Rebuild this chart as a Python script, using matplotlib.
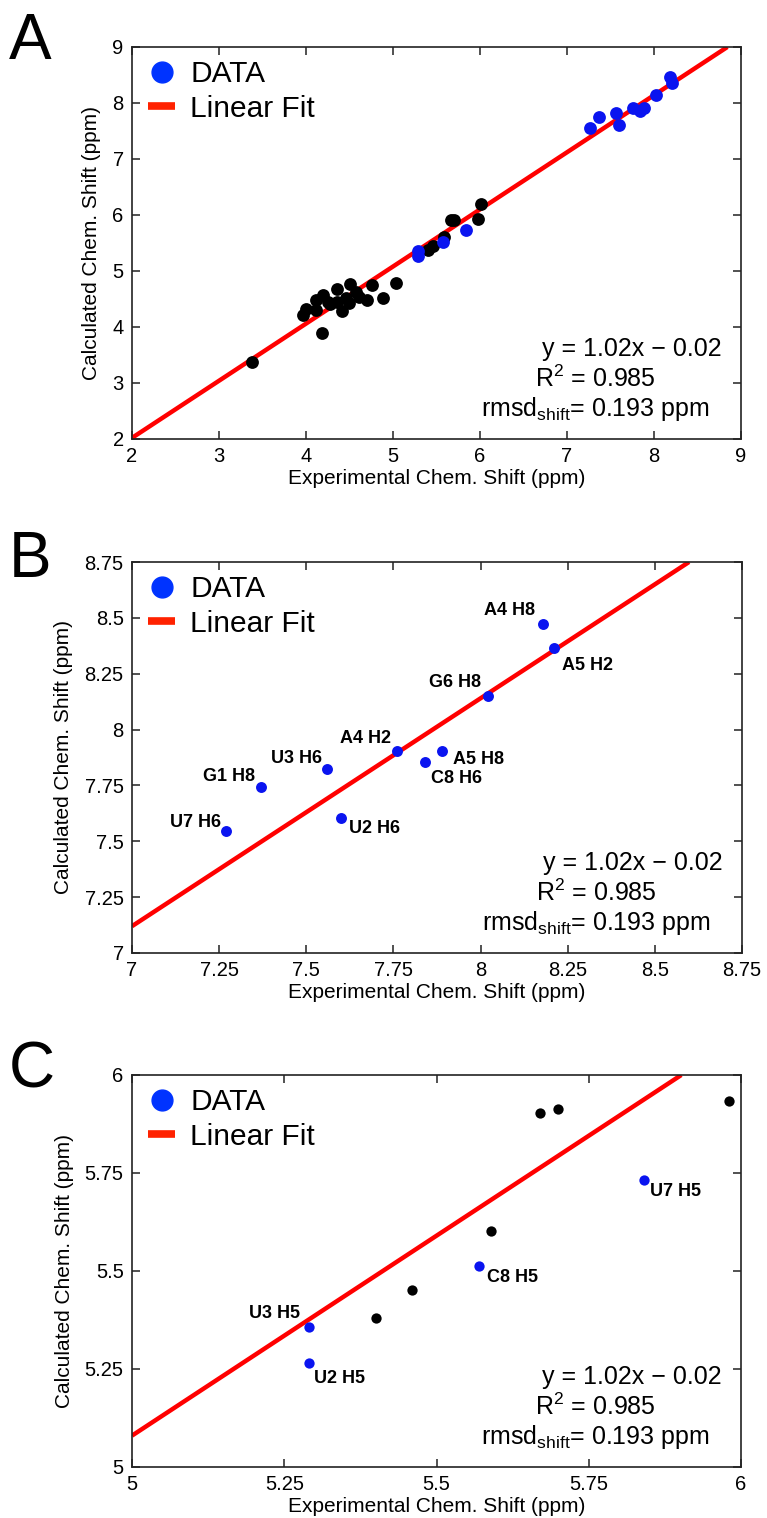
import numpy as np
import matplotlib
matplotlib.use("Agg")
import matplotlib.pyplot as plt
from matplotlib.lines import Line2D
from matplotlib.ticker import FuncFormatter

plt.rcParams['font.family'] = ['Liberation Sans', 'DejaVu Sans']
plt.rcParams['mathtext.fontset'] = 'custom'
plt.rcParams['mathtext.rm'] = 'Liberation Sans'
plt.rcParams['mathtext.it'] = 'Liberation Sans:italic'
plt.rcParams['mathtext.bf'] = 'Liberation Sans:bold'

# ---------------- data ----------------
# aromatic protons (blue, panel B)
aro_labels = ['U7 H6', 'G1 H8', 'U3 H6', 'U2 H6', 'A4 H2', 'C8 H6', 'A5 H8', 'G6 H8', 'A4 H8', 'A5 H2']
aro_exp = [7.27, 7.37, 7.56, 7.60, 7.76, 7.84, 7.89, 8.02, 8.18, 8.21]
aro_calc = [7.545, 7.745, 7.822, 7.602, 7.903, 7.856, 7.903, 8.151, 8.472, 8.365]

# pyrimidine H5 protons (blue, panel C)
h5_labels = ['U3 H5', 'U2 H5', 'C8 H5', 'U7 H5']
h5_exp = [5.29, 5.29, 5.57, 5.84]
h5_calc = [5.358, 5.265, 5.512, 5.732]

# other protons in 5-6 ppm window (black, panel C)
mid_exp = [5.40, 5.46, 5.59, 5.67, 5.70, 5.98]
mid_calc = [5.381, 5.452, 5.602, 5.904, 5.912, 5.933]

# remaining (sugar) protons (black, panel A only)
sug_exp = [3.38, 4.18, 3.97, 4.00, 4.11, 4.12, 4.19, 4.25, 4.28, 4.36, 4.36, 4.41,
           4.46, 4.49, 4.50, 4.57, 4.61, 4.70, 4.76, 4.88, 5.03, 6.01]
sug_calc = [3.37, 3.89, 4.21, 4.32, 4.30, 4.49, 4.57, 4.44, 4.41, 4.44, 4.68, 4.28,
            4.52, 4.43, 4.77, 4.62, 4.53, 4.48, 4.75, 4.51, 4.78, 6.19]

fit_slope = 1.02
fit_intercept = -0.02
eq_lines = ['y = 1.02x − 0.02', 'R$^2$ = 0.985', r'rmsd$_{\mathrm{shift}}$= 0.193 ppm']

xlabel = 'Experimental Chem. Shift (ppm)'
ylabel = 'Calculated Chem. Shift (ppm)'
panel_letters = ['A', 'B', 'C']
ticksA = [2, 3, 4, 5, 6, 7, 8, 9]
ticksB = [7, 7.25, 7.5, 7.75, 8, 8.25, 8.5, 8.75]
ticksC = [5, 5.25, 5.5, 5.75, 6]

# label offsets in pixels (dx, dy) -- style
aro_off = {'U7 H6': (-31, 9), 'G1 H8': (-32, 10), 'U3 H6': (-31, 11), 'U2 H6': (33, -10),
           'A4 H2': (-31, 13), 'C8 H6': (32, -17), 'A5 H8': (36, -8), 'G6 H8': (-33, 13),
           'A4 H8': (-34, 14), 'A5 H2': (34, -17)}
h5_off = {'U3 H5': (-34, 13), 'U2 H5': (31, -15), 'C8 H5': (33, -11), 'U7 H5': (32, -11)}

BLUE = '#0a14f0'
LEG_BLUE = '#0033ff'
RED = '#ff0000'
LEG_RED = '#ff2200'

W, H = 767, 1518
fig = plt.figure(figsize=(W / 100, H / 100), dpi=100)


def rect(l, t, r, b):
    return [l / W, 1 - b / H, (r - l) / W, (b - t) / H]


axA = fig.add_axes(rect(132, 47, 741, 439))
axB = fig.add_axes(rect(132, 562, 742, 953))
axC = fig.add_axes(rect(132, 1075, 741, 1467))

fmt = FuncFormatter(lambda v, p: f'{v:g}')


def style(ax, ticks):
    ax.set_xlim(ticks[0], ticks[-1])
    ax.set_ylim(ticks[0], ticks[-1])
    ax.set_xticks(ticks)
    ax.set_yticks(ticks)
    ax.xaxis.set_major_formatter(fmt)
    ax.yaxis.set_major_formatter(fmt)
    ax.tick_params(direction='in', length=6, width=1.1, top=True, right=True,
                   labelsize=14.5, pad=6, colors='#222222', labelcolor='black')
    for s in ax.spines.values():
        s.set_linewidth(1.2)
        s.set_color('#222222')
    ax.set_xlabel(xlabel, fontsize=15, labelpad=2)
    ax.set_ylabel(ylabel, fontsize=15, labelpad=8)
    ax.axline((0, fit_intercept), slope=fit_slope, color=RED, lw=3.2, zorder=2,
              solid_capstyle='butt')
    handles = [Line2D([], [], marker='o', ls='none', color=LEG_BLUE, ms=15),
               Line2D([], [], color=LEG_RED, lw=5.5, solid_capstyle='butt')]
    ax.legend(handles, ['DATA', 'Linear Fit'], loc='upper left',
              bbox_to_anchor=(0.027, 0.966), frameon=False, fontsize=21.5,
              handlelength=0.9, handletextpad=0.5, labelspacing=0.22,
              borderpad=0, borderaxespad=0)
    ax.text(1 - 19 / 609, 90 / 392, eq_lines[0], transform=ax.transAxes,
            ha='right', va='center', fontsize=18)
    ax.text(1 - 85 / 609, 60 / 392, eq_lines[1], transform=ax.transAxes,
            ha='right', va='center', fontsize=18)
    ax.text(1 - 31 / 609, 30 / 392, eq_lines[2], transform=ax.transAxes,
            ha='right', va='center', fontsize=18)


style(axA, ticksA)
style(axB, ticksB)
style(axC, ticksC)

# Panel A
axA.scatter(sug_exp + mid_exp, sug_calc + mid_calc, s=85, color='black', zorder=3, lw=0)
axA.scatter(aro_exp + h5_exp, aro_calc + h5_calc, s=85, color=BLUE, zorder=3, lw=0)

# Panel B
axB.scatter(aro_exp, aro_calc, s=62, color=BLUE, zorder=3, lw=0)
for lab, x, y in zip(aro_labels, aro_exp, aro_calc):
    axB.annotate(lab, (x, y), xytext=aro_off[lab], textcoords='offset pixels',
                 ha='center', va='center', fontsize=13, fontweight='bold')

# Panel C
axC.scatter(mid_exp, mid_calc, s=55, color='black', zorder=3, lw=0)
axC.scatter(h5_exp, h5_calc, s=55, color=BLUE, zorder=3, lw=0)
for lab, x, y in zip(h5_labels, h5_exp, h5_calc):
    axC.annotate(lab, (x, y), xytext=h5_off[lab], textcoords='offset pixels',
                 ha='center', va='center', fontsize=13, fontweight='bold')

for letter, top in zip(panel_letters, [12, 530, 1041]):
    fig.text(9 / W, 1 - top / H, letter, fontsize=46, ha='left', va='top')

fig.savefig('out.png', dpi=100)
